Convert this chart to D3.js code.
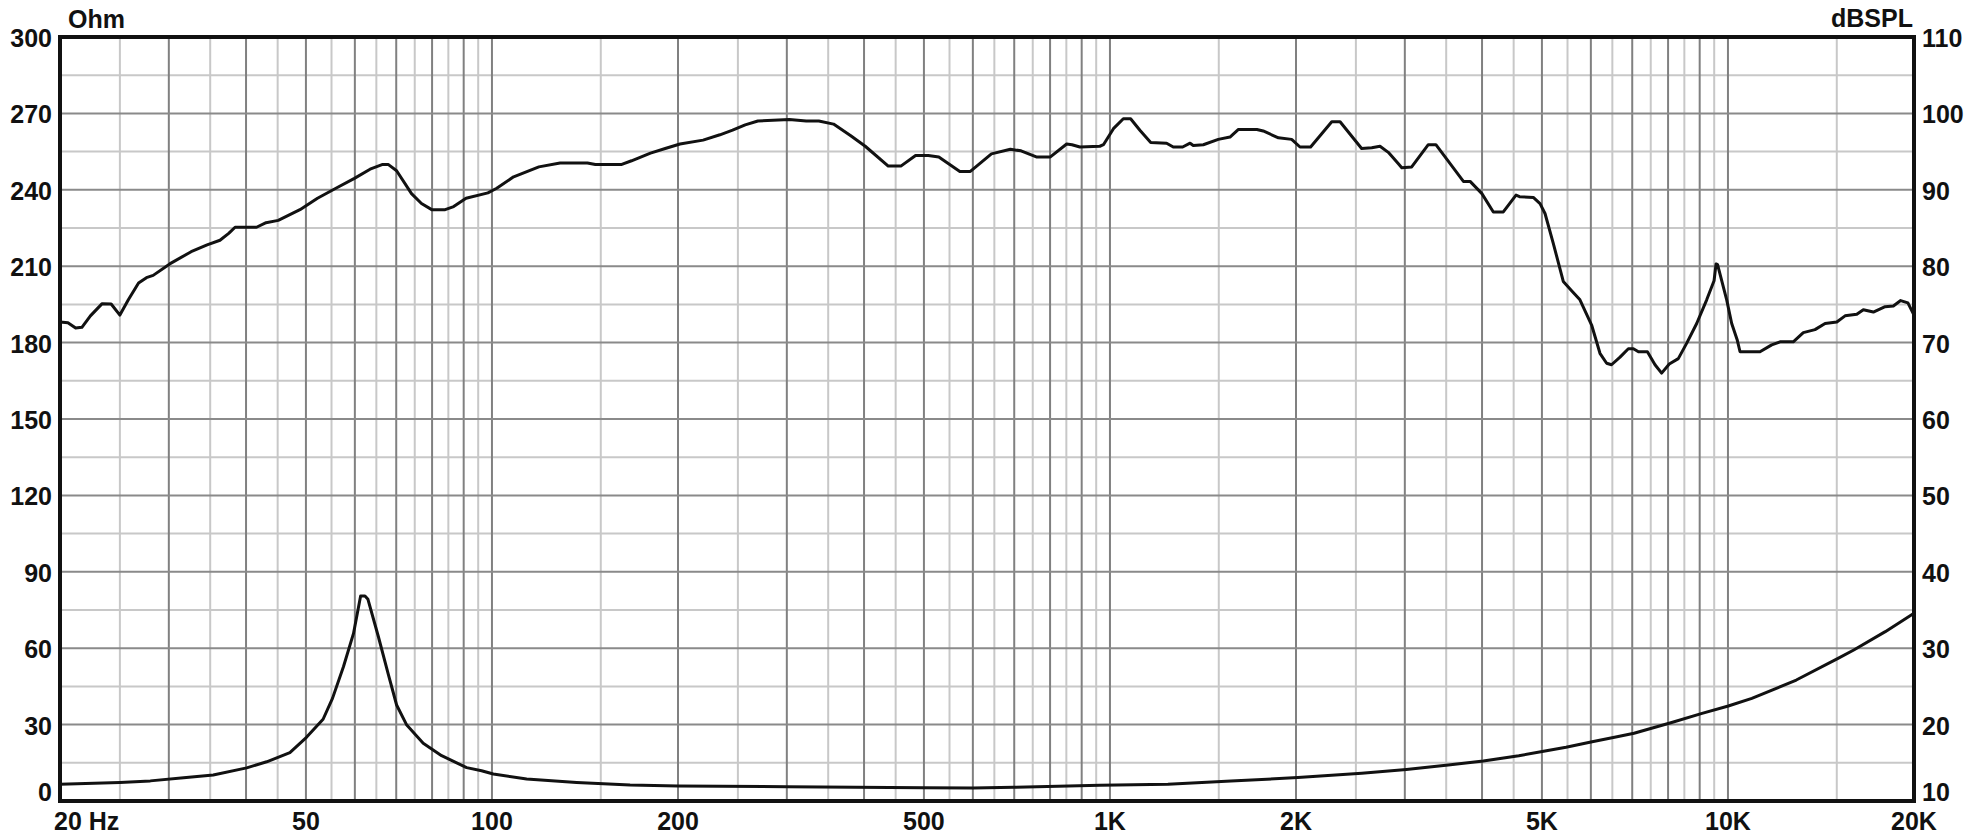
<!DOCTYPE html>
<html>
<head>
<meta charset="utf-8">
<script src="https://cdn.jsdelivr.net/npm/d3@7"></script>
<style>
    body { margin: 0; background: #fff; }
    text { font-family: "Liberation Sans", Arial, sans-serif; font-weight: bold; fill: #111; }
</style>
</head>
<body>
<div id="chart"></div>
<script>
// SPL response (right axis, dBSPL)
const splFreq = [20, 20.6, 21.2, 21.7, 22.4, 23.4, 24.2, 25, 25.8, 26.8, 27.6, 28.3, 30.1, 32.6, 34.6, 36.3, 37.5, 38.4, 41.6, 43.1,
    45.1, 48.9, 52.2, 56.2, 59.9, 63.5, 66.4, 68, 70.1, 74.1, 76.9, 79.9, 84, 86.7, 90.8, 98.5, 101.8, 108.4, 119.1, 128.9,
    142.7, 147, 161.8, 168.2, 180.5, 190.7, 201.5, 219.6, 233.8, 245.1, 256.9, 269.3, 302.8, 322.5, 338, 357, 380.2, 401.8, 437.8, 458.8,
    484.7, 508.1, 528.5, 571.6, 594.4, 643, 690, 718, 760, 801, 851, 868, 894, 963, 976, 1013, 1051, 1080, 1118, 1164,
    1235, 1266, 1311, 1348, 1364, 1416, 1497, 1564, 1614, 1729, 1770, 1873, 1968, 2030, 2112, 2285, 2357, 2554, 2652, 2735,
    2821, 2929, 2966, 3078, 3274, 3368, 3732, 3826, 3998, 4172, 4330, 4540, 4600, 4842, 4965, 5058, 5216, 5414, 5585, 5761,
    6017, 6207, 6363, 6480, 6689, 6899, 7030, 7164, 7407, 7620, 7810, 8036, 8311, 8572, 8900, 9238, 9495, 9566, 9620, 9953,
    10140, 10355, 10460, 11267, 11770, 12140, 12755, 13240, 13830, 14360, 15000, 15470, 16160, 16560, 17190, 17960, 18520, 19030, 19550, 20000];
const splDb = [72.7, 72.6, 71.9, 72.0, 73.5, 75.1, 75.05, 73.6, 75.6, 77.8, 78.5, 78.8, 80.3, 81.9, 82.8, 83.4, 84.3, 85.1, 85.1, 85.7,
    86.0, 87.4, 88.9, 90.3, 91.5, 92.7, 93.3, 93.3, 92.5, 89.5, 88.2, 87.4, 87.4, 87.8, 88.9, 89.6, 90.2, 91.7, 93.0, 93.5,
    93.5, 93.3, 93.3, 93.8, 94.8, 95.4, 96.0, 96.5, 97.2, 97.8, 98.5, 99.0, 99.2, 99.0, 99.0, 98.6, 97.1, 95.7, 93.1, 93.1,
    94.5, 94.5, 94.3, 92.4, 92.4, 94.7, 95.3, 95.1, 94.3, 94.3, 96.0, 95.9, 95.6, 95.7, 95.9, 98.0, 99.3, 99.3, 97.8, 96.2,
    96.1, 95.6, 95.6, 96.1, 95.8, 95.9, 96.6, 96.9, 97.9, 97.9, 97.7, 96.8, 96.6, 95.6, 95.6, 98.9, 98.9, 95.4, 95.5, 95.7,
    94.9, 93.4, 92.9, 93.0, 95.9, 95.9, 91.1, 91.1, 89.5, 87.1, 87.1, 89.3, 89.1, 89.0, 88.2, 86.9, 83.0, 78.0, 76.8, 75.6,
    72.3, 68.6, 67.3, 67.1, 68.1, 69.2, 69.2, 68.8, 68.8, 67.1, 66.0, 67.2, 67.9, 69.9, 72.5, 75.6, 78.1, 80.3, 80.2, 75.6,
    72.5, 70.3, 68.8, 68.8, 69.7, 70.1, 70.1, 71.3, 71.7, 72.5, 72.7, 73.5, 73.7, 74.3, 74.0, 74.7, 74.8, 75.5, 75.2, 73.6];

// Impedance (left axis, Ohm)
const impFreq = [20, 25, 28, 31.7, 35.4, 40.1, 43.2, 47.1, 50.1, 53.3, 55.2, 57.5, 59.7, 61.3, 62.3, 63, 65.5, 68, 70.1, 72.8,
    77.4, 82.9, 91, 96.2, 100.5, 113.8, 137.1, 167.3, 200, 300, 500, 600, 700, 963, 1241, 1570, 2014, 2555, 3017, 3527, 4019,
    4587, 5058, 5470, 6029, 6645, 7047, 8083, 9080, 10013, 10930, 12900, 15070, 15980, 17970, 20000];
const impOhm = [6.6, 7.3, 7.9, 9.1, 10.2, 13.0, 15.4, 19.0, 25.0, 32.1, 40.3, 52.7, 65.8, 80.5, 80.5, 79.2, 64.5, 49.5, 37.7, 29.8,
    22.7, 17.8, 13.1, 11.9, 10.6, 8.6, 7.3, 6.3, 5.9, 5.6, 5.2, 5.1, 5.4, 6.2, 6.6, 7.85, 9.2, 10.9, 12.4, 14.1, 15.7,
    17.8, 19.6, 21.1, 23.3, 25.3, 26.6, 30.7, 34.4, 37.3, 40.3, 47.5, 56.0, 59.3, 66.5, 73.7];

// Axis ticks
const freqTicks = [20, 50, 100, 200, 500, 1000, 2000, 5000, 10000, 20000];
const freqLabels = ["20 Hz", "50", "100", "200", "500", "1K", "2K", "5K", "10K", "20K"];
const ohmTicks = [0, 30, 60, 90, 120, 150, 180, 210, 240, 270, 300];
const dbTicks = [10, 20, 30, 40, 50, 60, 70, 80, 90, 100, 110];

const width = 1975;
const height = 838;
const margin = { top: 37, right: 61, bottom: 37, left: 60 };

const svg = d3.select("#chart")
    .append("svg")
    .attr("width", width)
    .attr("height", height);

const x = d3.scaleLog()
    .domain([20, 20000])
    .range([margin.left, width - margin.right]);

const yOhm = d3.scaleLinear()
    .domain([0, 300])
    .range([height - margin.bottom, margin.top]);

const yDb = d3.scaleLinear()
    .domain([10, 110])
    .range([height - margin.bottom, margin.top]);

// grid lines: dark on 1..9 x decade, light on the half steps
const darkX = [];
const lightX = [];
for (let dec = 10; dec <= 10000; dec *= 10) {
    for (let m = 1; m <= 9; m++) {
        const f = m * dec;
        const h = (m + 0.5) * dec;
        if (f > 20 && f < 20000) darkX.push(f);
        if (h > 20 && h < 20000) lightX.push(h);
    }
}
const lightY = d3.range(15, 300, 30);
const darkY = d3.range(30, 300, 30);

const grid = svg.append("g");

grid.selectAll(".lx")
    .data(lightX)
    .enter()
    .append("line")
    .attr("x1", d => x(d))
    .attr("x2", d => x(d))
    .attr("y1", margin.top)
    .attr("y2", height - margin.bottom)
    .attr("stroke", "#c8c8c8")
    .attr("stroke-width", 2);

grid.selectAll(".ly")
    .data(lightY)
    .enter()
    .append("line")
    .attr("x1", margin.left)
    .attr("x2", width - margin.right)
    .attr("y1", d => yOhm(d))
    .attr("y2", d => yOhm(d))
    .attr("stroke", "#c8c8c8")
    .attr("stroke-width", 2);

grid.selectAll(".dx")
    .data(darkX)
    .enter()
    .append("line")
    .attr("x1", d => x(d))
    .attr("x2", d => x(d))
    .attr("y1", margin.top)
    .attr("y2", height - margin.bottom)
    .attr("stroke", "#808080")
    .attr("stroke-width", 2);

grid.selectAll(".dy")
    .data(darkY)
    .enter()
    .append("line")
    .attr("x1", margin.left)
    .attr("x2", width - margin.right)
    .attr("y1", d => yOhm(d))
    .attr("y2", d => yOhm(d))
    .attr("stroke", "#8a8a8a")
    .attr("stroke-width", 2);

// curves
const splLine = d3.line()
    .x(d => x(d[0]))
    .y(d => yDb(d[1]));

const impLine = d3.line()
    .x(d => x(d[0]))
    .y(d => yOhm(d[1]));

svg.append("path")
    .datum(d3.zip(splFreq, splDb))
    .attr("d", splLine)
    .attr("fill", "none")
    .attr("stroke", "#111")
    .attr("stroke-width", 3)
    .attr("stroke-linejoin", "round");

svg.append("path")
    .datum(d3.zip(impFreq, impOhm))
    .attr("d", impLine)
    .attr("fill", "none")
    .attr("stroke", "#111")
    .attr("stroke-width", 3)
    .attr("stroke-linejoin", "round");

// frame
svg.append("rect")
    .attr("x", margin.left)
    .attr("y", margin.top)
    .attr("width", width - margin.left - margin.right)
    .attr("height", height - margin.top - margin.bottom)
    .attr("fill", "none")
    .attr("stroke", "#111")
    .attr("stroke-width", 4);

// tick labels (bottom ones lifted a little so they clear the frequency labels)
svg.append("g")
    .selectAll("text")
    .data(ohmTicks)
    .enter()
    .append("text")
    .attr("x", 52)
    .attr("y", d => Math.min(yOhm(d) + 10, 801))
    .attr("text-anchor", "end")
    .style("font-size", "25px")
    .text(d => d);

svg.append("g")
    .selectAll("text")
    .data(dbTicks)
    .enter()
    .append("text")
    .attr("x", width - margin.right + 8)
    .attr("y", d => Math.min(yDb(d) + 10, 801))
    .attr("text-anchor", "start")
    .style("font-size", "25px")
    .text(d => d);

svg.append("g")
    .selectAll("text")
    .data(freqTicks)
    .enter()
    .append("text")
    .attr("x", (d, i) => i === 0 ? 54 : x(d))
    .attr("y", 830)
    .attr("text-anchor", (d, i) => i === 0 ? "start" : "middle")
    .style("font-size", "25px")
    .text((d, i) => freqLabels[i]);

// axis units
svg.append("text")
    .attr("x", 68)
    .attr("y", 28)
    .style("font-size", "25px")
    .text("Ohm");

svg.append("text")
    .attr("x", width - margin.right - 1)
    .attr("y", 27)
    .attr("text-anchor", "end")
    .style("font-size", "25px")
    .text("dBSPL");
</script>
</body>
</html>
